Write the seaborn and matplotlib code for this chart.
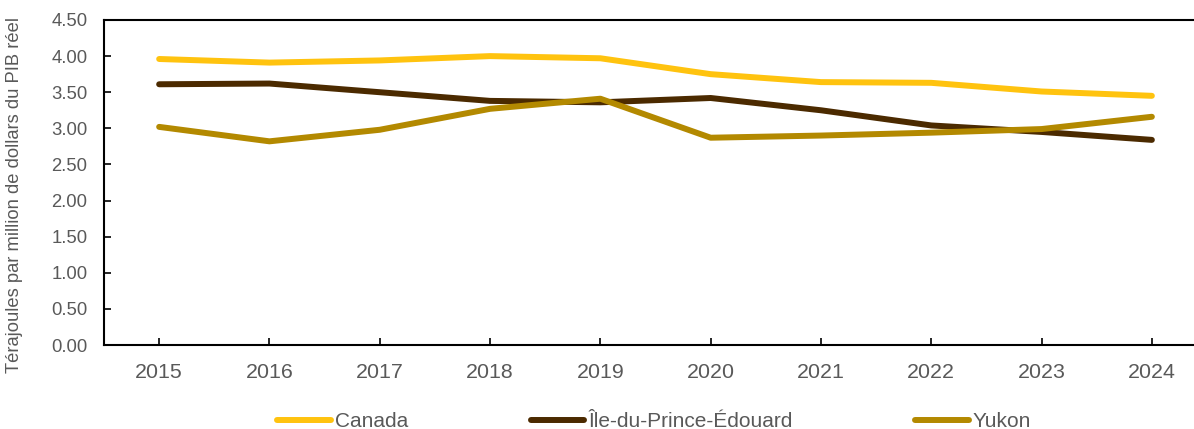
import matplotlib
matplotlib.use("Agg")
import matplotlib.pyplot as plt
import seaborn as sns
import pandas as pd

years = ["2015", "2016", "2017", "2018", "2019", "2020", "2021", "2022", "2023", "2024"]
canada = [3.96, 3.91, 3.94, 4.00, 3.97, 3.75, 3.64, 3.63, 3.51, 3.45]
ipe = [3.61, 3.62, 3.50, 3.38, 3.36, 3.42, 3.25, 3.04, 2.95, 2.84]
yukon = [3.02, 2.82, 2.98, 3.27, 3.41, 2.87, 2.90, 2.94, 2.99, 3.16]

series_names = ["Canada", "Île-du-Prince-Édouard", "Yukon"]
colors = ["#FFC30F", "#4B2A00", "#B38900"]
y_ticks = [0.0, 0.5, 1.0, 1.5, 2.0, 2.5, 3.0, 3.5, 4.0, 4.5]
y_label = "Térajoules par million de dollars du PIB réel"

rows = []
for name, vals in zip(series_names, [canada, ipe, yukon]):
    for i, v in enumerate(vals):
        rows.append({"pos": i, "Année": years[i], "Série": name, "Valeur": v})
df = pd.DataFrame(rows)

sns.set_style("white")
plt.rcParams["font.family"] = ["Liberation Sans", "DejaVu Sans"]

fig = plt.figure(figsize=(11.94, 4.29), dpi=100)
ax = fig.add_axes([0.0871, 0.1958, 0.9238, 0.7576])

sns.lineplot(data=df, x="pos", y="Valeur", hue="Série", hue_order=series_names,
             palette=colors, linewidth=4.3, ax=ax, legend=False, sort=False)
for line in ax.get_lines():
    line.set_solid_capstyle("round")
    line.set_solid_joinstyle("round")

ax.set_xlim(-0.5, 9.5)
ax.set_ylim(0, 4.5)
ax.set_xticks(range(len(years)))
ax.set_xticklabels(years)
ax.set_yticks(y_ticks)
ax.set_yticklabels([f"{t:.2f}" for t in y_ticks])
ax.set_xlabel("")
ax.set_ylabel(y_label, fontsize=13.2, color="#595959")
ax.yaxis.set_label_coords(-0.073, 0.46)

for s in ["left", "bottom", "top"]:
    ax.spines[s].set_visible(True)
    ax.spines[s].set_color("#000000")
    ax.spines[s].set_linewidth(1.5)
ax.spines["right"].set_visible(False)

ax.tick_params(axis="x", direction="in", length=5, width=1.2, color="#000000",
               labelsize=15.4, labelcolor="#595959", pad=13, bottom=True)
ax.tick_params(axis="y", direction="in", length=5, width=1.2, color="#000000",
               labelsize=13.3, labelcolor="#595959", pad=12, left=True)

handles = ax.get_lines()[:3]
fig.legend(handles, series_names, loc="center", bbox_to_anchor=(0.548, 0.017),
           ncol=3, frameon=False, fontsize=15, labelcolor="#595959",
           handlelength=2.55, handletextpad=0.2, columnspacing=5.9)

fig.savefig("out.png", dpi=100)
